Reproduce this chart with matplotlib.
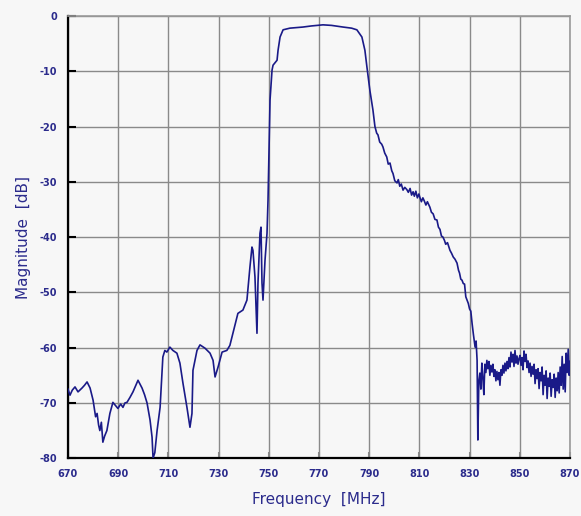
import numpy as np
from matplotlib import pyplot as plt

plt.rcParams["axes.unicode_minus"] = False

freq = [
    670.0, 670.8, 671.7, 672.8, 674.0, 675.6, 676.6, 677.6, 678.8, 680.0,
    681.0, 681.6, 682.2, 682.7, 683.3, 683.9, 684.6, 685.5, 686.7, 687.9,
    689.0, 689.9, 691.0, 691.9, 692.7, 693.5, 694.7, 695.9, 697.9, 699.5,
    700.5, 701.5, 702.7, 703.5, 703.9, 704.6, 705.5, 706.7, 707.8, 708.6,
    709.4, 710.6, 711.8, 713.4, 714.6, 715.8, 717.4, 718.6, 719.4, 719.8,
    721.4, 722.6, 724.6, 726.6, 727.8, 728.6, 729.8, 731.4, 733.3, 734.5,
    735.7, 737.7, 739.7, 741.3, 742.5, 743.3, 743.7, 744.5, 745.3, 745.7,
    746.5, 746.9, 747.3, 747.7, 748.5, 749.3, 749.7, 750.1, 750.5, 751.3,
    751.7, 753.3, 753.7, 754.5, 755.7, 758.4, 761.0, 763.6, 767.0, 771.6,
    775.0, 779.6, 783.0, 785.1, 787.1, 788.3, 789.1, 790.3, 791.5,
    # roll-off
    792.3, 793.0, 793.5, 794.2, 795.0, 795.5, 796.2, 797.0, 797.6, 798.3,
    799.0, 799.5, 800.2, 801.1, 801.6, 802.2, 802.8, 803.5, 804.2, 805.0,
    805.6, 806.3, 806.9, 807.5, 808.0, 808.6, 809.2, 809.8, 810.2, 810.8,
    811.4, 812.0, 812.6, 813.2, 814.2, 814.8, 815.5, 816.2, 817.0, 817.6,
    818.2, 818.8, 819.4, 820.0, 820.5, 821.2, 822.2, 822.8, 823.5, 824.2,
    825.0, 825.6, 826.0, 826.5, 827.0, 827.5, 828.0, 828.5, 829.0, 829.5,
    830.0, 830.5, 831.0, 831.5, 832.2, 832.6, 833.0, 833.3,
    # upper stopband
    833.7, 834.1, 834.5, 834.9, 835.3, 835.7, 836.1, 836.5, 836.9, 837.3,
    837.7, 838.1, 838.5, 838.9, 839.3, 839.7, 840.1, 840.5, 840.9, 841.3,
    841.7, 842.1, 842.5, 842.9, 843.3, 843.7, 844.1, 844.5, 844.9, 845.3,
    845.7, 846.1, 846.5, 846.9, 847.3, 847.7, 848.1, 848.5, 848.9, 849.3,
    849.7, 850.1, 850.5, 850.9, 851.3, 851.7, 852.1, 852.5, 852.9, 853.3,
    853.7, 854.1, 854.5, 854.9, 855.3, 855.7, 856.1, 856.5, 856.9, 857.3,
    857.7, 858.1, 858.5, 858.9, 859.3, 859.7, 860.1, 860.5, 860.9, 861.3,
    861.7, 862.1, 862.5, 862.9, 863.3, 863.7, 864.1, 864.5, 864.9, 865.3,
    865.7, 866.1, 866.5, 866.9, 867.3, 867.7, 868.1, 868.5, 868.9, 869.3,
    869.7, 870.0,
]
mag = [
    -67.5, -68.6, -67.7, -67.1, -68.0, -67.3, -66.8, -66.2, -67.3, -69.5,
    -72.5, -71.9, -74.0, -75.0, -73.5, -77.1, -76.0, -75.0, -71.9, -69.9,
    -70.5, -71.0, -70.2, -70.8, -70.0, -69.9, -69.0, -68.0, -65.9, -67.3,
    -68.5, -70.0, -73.1, -76.2, -80.0, -79.0, -75.0, -70.8, -61.7, -60.5,
    -60.8, -59.9, -60.5, -61.0, -62.8, -66.4, -70.8, -74.4, -71.9, -64.1,
    -60.5, -59.5, -60.1, -61.0, -62.3, -65.3, -63.5, -60.8, -60.5, -59.6,
    -57.4, -53.8, -53.2, -51.4, -45.4, -41.8, -42.4, -47.2, -57.4, -48.3,
    -39.3, -38.2, -48.3, -51.4, -44.2, -39.3, -33.3, -24.3, -15.2, -9.8,
    -8.9, -8.0, -6.2, -3.8, -2.5, -2.2, -2.1, -2.0, -1.8, -1.6,
    -1.7, -2.0, -2.2, -2.5, -3.8, -6.2, -9.2, -13.5, -17.0,
    -20.0, -21.2, -21.5, -22.8, -23.2, -23.7, -24.8, -25.5, -26.8, -26.6,
    -28.0, -28.5, -29.8, -30.2, -29.6, -30.8, -30.4, -31.5, -31.0, -31.4,
    -31.9, -31.2, -32.4, -31.8, -32.6, -31.7, -32.9, -32.2, -32.8, -33.6,
    -32.9, -33.5, -34.2, -33.6, -34.6, -35.5, -35.8, -36.8, -36.9, -38.2,
    -38.6, -39.8, -40.0, -40.6, -41.3, -41.0, -42.4, -42.9, -43.6, -44.0,
    -44.7, -46.0, -46.5, -47.6, -47.8, -48.4, -48.5, -50.8, -51.4, -52.0,
    -53.0, -53.4, -55.6, -57.5, -59.9, -58.8, -62.3, -76.7,
    -66.0, -64.6, -67.5, -62.8, -65.5, -68.5, -63.0, -64.5, -62.3, -63.8,
    -62.5, -65.0, -63.2, -64.4, -63.0, -65.2, -64.0, -66.0, -64.3, -65.8,
    -64.5, -66.8, -64.0, -65.0, -63.2, -64.6, -62.8, -64.2, -62.5, -63.8,
    -61.8, -63.5, -60.8, -62.6, -61.2, -63.4, -60.5, -62.8, -61.5, -63.0,
    -62.0, -61.4, -63.2, -61.8, -64.0, -60.6, -62.5, -61.2, -63.6, -62.4,
    -64.5, -62.8, -65.2, -63.4, -64.8, -63.0, -66.5, -64.0, -65.6, -63.8,
    -67.4, -64.5, -66.0, -63.5, -68.5, -65.0, -66.8, -64.2, -69.2, -65.5,
    -67.0, -64.6, -68.8, -65.8, -67.2, -64.8, -69.0, -65.5, -67.8, -64.5,
    -68.2, -63.5, -66.8, -61.6, -67.5, -63.0, -68.0, -61.0, -64.5, -60.3,
    -65.0, -62.5,
]

xticks = [670, 690, 710, 730, 750, 770, 790, 810, 830, 850, 870]
yticks = [0, -10, -20, -30, -40, -50, -60, -70, -80]

textColor = "#2b2b8c"
bg = "#f7f7f7"

fig = plt.figure(figsize=(5.81, 5.16), dpi=100)
fig.set_facecolor(bg)
axes = fig.add_axes([0.117, 0.112, 0.864, 0.857])
axes.set_facecolor(bg)

axes.plot(freq, mag, color="#1a1a88", linewidth=1.2, zorder=5)

axes.set_xlim(670, 870)
axes.set_ylim(-80, 0)
axes.set_xticks(xticks)
axes.set_yticks(yticks)
axes.grid(True, color="#8a8a8a", linewidth=1)

for side in ["left", "bottom"]:
    axes.spines[side].set_color("black")
    axes.spines[side].set_linewidth(1.6)
for side in ["top", "right"]:
    axes.spines[side].set_color("#9a9a9a")
    axes.spines[side].set_linewidth(1.2)

axes.tick_params(axis="y", direction="in", length=6, width=1.5, color="black",
                 labelsize=7, labelcolor=textColor, pad=8)
axes.tick_params(axis="x", direction="in", length=4, width=1.5, color="#8a8a8a",
                 labelsize=7, labelcolor=textColor, pad=8)
for label in axes.get_xticklabels() + axes.get_yticklabels():
    label.set_fontweight("bold")

axes.set_xlabel("Frequency  [MHz]", color=textColor, fontsize=11, labelpad=9)
axes.set_ylabel("Magnitude  [dB]", color=textColor, fontsize=11, labelpad=6)

fig.savefig("out.png", dpi=100, facecolor=bg)
